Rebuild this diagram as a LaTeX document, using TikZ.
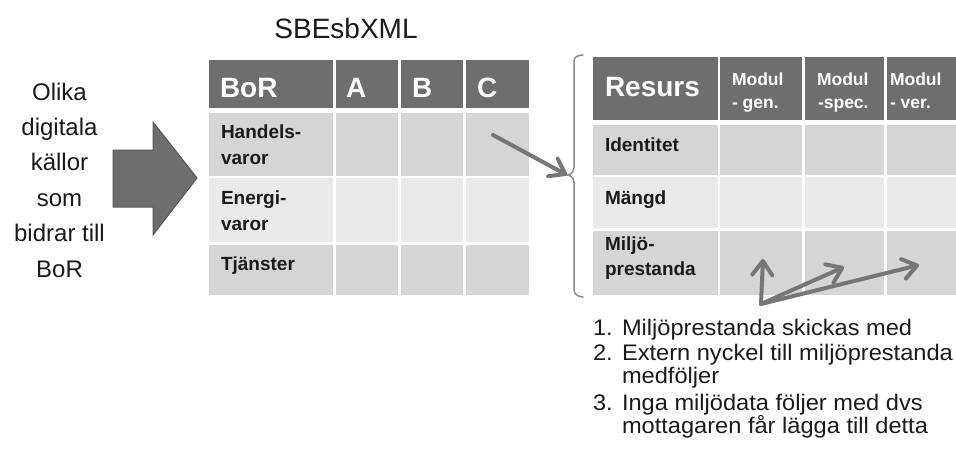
\documentclass[tikz,border=0pt]{standalone}
\usepackage{fontspec}
\setmainfont{Liberation Sans}
\newfontfamily\widefont[FakeStretch=1.05]{Liberation Sans}
\usetikzlibrary{arrows.meta}
\definecolor{hdr}{HTML}{6E6E6E}
\definecolor{hdrline}{HTML}{585858}
\definecolor{rowa}{HTML}{D5D5D5}
\definecolor{rowb}{HTML}{EAEAEA}
\definecolor{arr}{HTML}{767676}
\definecolor{brc}{HTML}{8C8C8C}
\definecolor{ink}{HTML}{1A1A1A}

\begin{document}
\begin{tikzpicture}[x=1pt,y=-1pt,
  cell/.style={anchor=north west, inner sep=0pt, outer sep=0pt, draw=none},
  txt/.style={anchor=base west, inner sep=0pt, outer sep=0pt, text=ink},
  bighead/.style={txt, text=white, font=\bfseries\fontsize{28}{30}\selectfont},
  smallhead/.style={txt, text=white, font=\bfseries\fontsize{17.5}{20}\selectfont},
  rowlabel/.style={txt, font=\bfseries\fontsize{19}{22}\selectfont},
  listtxt/.style={txt, font=\widefont\fontsize{22.5}{24}\selectfont},
  srctxt/.style={anchor=base, inner sep=0pt, text=ink, font=\fontsize{24}{26}\selectfont},
  conn/.style={draw=arr, line width=4pt, line cap=round, line join=round,
    -{Straight Barb[length=14pt, width=20pt, line cap=round, line join=round]}},
]
\useasboundingbox (0,0) rectangle (956,455);

% ---- source text on the left
\foreach \t [count=\i] in {Olika, digitala, källor, som, bidrar till, BoR}
  \node[srctxt] (src\i) at (59.5, {100 + 35.4*(\i-1)}) {\t};

% ---- block arrow
\draw[fill=hdr, draw=hdrline, line width=1pt]
  (113,150) -- (153,150) -- (153,122) -- (197,178) -- (153,235) -- (153,207) -- (113,207) -- cycle;

% ---- title
\node[anchor=base, inner sep=0pt, text=ink, font=\fontsize{28}{30}\selectfont] (title) at (346,38) {SBEsbXML};

% ---- left table (BoR)
\foreach \x/\w [count=\c] in {209/124, 336/62, 401/62, 466/63} {
  \node[cell, fill=hdr,  minimum width=\w pt, minimum height=48pt] (lh\c) at (\x,60) {};
  \node[cell, fill=rowa, minimum width=\w pt, minimum height=63pt] (la\c) at (\x,113) {};
  \node[cell, fill=rowb, minimum width=\w pt, minimum height=64pt] (lb\c) at (\x,178) {};
  \node[cell, fill=rowa, minimum width=\w pt, minimum height=50pt] (lc\c) at (\x,245) {};
}
\node[bighead] (hBoR) at (220,97) {BoR};
\node[bighead] (hA) at (346,97) {A};
\node[bighead] (hB) at (412,97) {B};
\node[bighead] (hC) at (477,97) {C};
\node[rowlabel] (rHa) at (221,138) {Handels-};
\node[rowlabel] (rHb) at (221,164) {varor};
\node[rowlabel] (rEa) at (221,204) {Energi-};
\node[rowlabel] (rEb) at (221,230) {varor};
\node[rowlabel] (rT)  at (221,270) {Tjänster};

% ---- right table (Resurs)
\foreach \x/\w [count=\c] in {593/125, 720/82, 805/79, 887/69} {
  \node[cell, fill=hdr,  minimum width=\w pt, minimum height=63pt] (rh\c) at (\x,57) {};
  \node[cell, fill=rowa, minimum width=\w pt, minimum height=50pt] (ra\c) at (\x,125) {};
  \node[cell, fill=rowb, minimum width=\w pt, minimum height=51pt] (rb\c) at (\x,177) {};
  \node[cell, fill=rowa, minimum width=\w pt, minimum height=64pt] (rc\c) at (\x,231) {};
}
\node[bighead] (hRes) at (605,96) {Resurs};
\node[smallhead] (hM1a) at (732,85) {Modul};
\node[smallhead] (hM1b) at (732,108) {- gen.};
\node[smallhead] (hM2a) at (817,85) {Modul};
\node[smallhead] (hM2b) at (818,108) {-spec.};
\node[smallhead] (hM3a) at (890,85) {Modul};
\node[smallhead] (hM3b) at (890,108) {- ver.};
\node[rowlabel] (rId) at (605,151) {Identitet};
\node[rowlabel] (rMa) at (605,204) {Mängd};
\node[rowlabel] (rMi) at (605,250) {Miljö-};
\node[rowlabel] (rPr) at (605,275) {prestanda};

% ---- brace in front of the right table
\coordinate (bracetip) at (567,175);
\draw[brc, line width=1.5pt, line cap=round]
  (583,55) to[out=180, in=90] (574,61) -- (574,167)
  to[out=-90, in=0] (bracetip) to[out=0, in=90] (574,183)
  -- (574,290) to[out=-90, in=180] (583,297);

% ---- arrow from the C column to the brace
\coordinate (fromC) at (493,135);
\draw[conn] (fromC) -- (bracetip);

% ---- fork of arrows into the environmental row
\coordinate (fork) at (761,304);
\coordinate (tgen)  at (763,259);
\coordinate (tspec) at (844,267);
\coordinate (tver)  at (919,265);
\draw[conn] (fork) -- (tgen);
\draw[conn] (fork) -- (tspec);
\draw[conn] (fork) -- (tver);

% ---- numbered list
\node[listtxt] (n1) at (593,335) {1.};
\node[listtxt] (l1) at (622,335) {Miljöprestanda skickas med};
\node[listtxt] (n2) at (593,360) {2.};
\node[listtxt] (l2) at (622,360) {Extern nyckel till miljöprestanda};
\node[listtxt] (l2b) at (622,383) {medföljer};
\node[listtxt] (n3) at (593,410) {3.};
\node[listtxt] (l3) at (622,410) {Inga miljödata följer med dvs};
\node[listtxt] (l3b) at (622,433) {mottagaren får lägga till detta};
\end{tikzpicture}
\end{document}
